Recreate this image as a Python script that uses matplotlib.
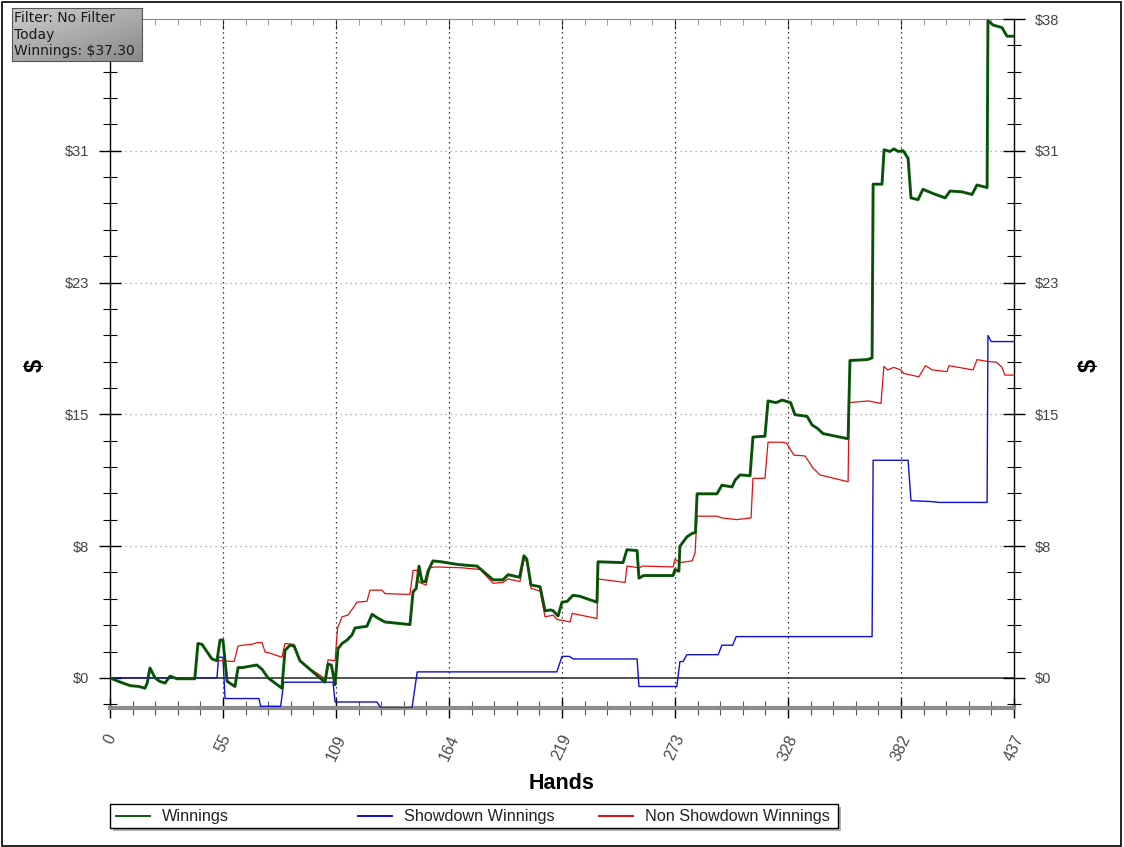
import numpy as np
import matplotlib
matplotlib.use("Agg")
import matplotlib.pyplot as plt
from matplotlib.patches import Rectangle
from matplotlib.lines import Line2D

# ---- datos (mano, $) ----
win_hands = [0, 4, 9.7, 14, 16.9, 18, 19.3, 20.5, 21.8, 24, 26.6, 29, 32.4, 41, 42.5, 44.5, 47, 49.3, 51.7,
             53.2, 54.6, 56.6, 60.4, 61.9, 64, 68.6, 71, 73.5, 76.4, 83.1, 84.6, 87, 89, 91.8, 97.6, 101.5,
             103.9, 105.4, 107, 108.8, 110.2, 112.2, 114.6, 117, 118.4, 124.2, 126.7, 129.1, 132.9, 145,
             146.5, 148, 149.4, 150.8, 152.5, 153.7, 156.1, 160, 167.7, 172, 177.4, 181.3, 185.2, 190, 192.4,
             198, 200.1, 201.5, 203.5, 207.9, 210.3, 213, 214.2, 216.6, 218.5, 221, 223.8, 227, 235.4, 235.9,
             248, 249.9, 254.8, 255.7, 258, 272.2, 273.1, 275, 275.5, 278.9, 281.4, 283, 283.8, 293.4, 295.8,
             300.7, 302.2, 304.6, 309.4, 310.8, 316.6, 318.1, 322, 324.9, 329, 331.1, 337, 339.4, 342, 344.7,
             356.8, 357.7, 366, 368.4, 368.9, 373.2, 374.2, 377, 379, 381, 383.4, 385.8, 387.2, 390.6, 393,
             398, 403.7, 406.1, 412, 416.7, 419.1, 424, 424.4, 426.9, 431.2, 433.6, 437]
win_vals = [0, -0.2, -0.45, -0.5, -0.6, -0.3, 0.58, 0.3, 0, -0.2, -0.3, 0.1, -0.05, -0.05, 2.0, 1.95, 1.5, 1.1, 1.0,
            2.2, 2.2, -0.2, -0.5, 0.6, 0.6, 0.7, 0.75, 0.5, 0, -0.6, 1.6, 1.9, 1.85, 1.0, 0.4, 0,
            -0.25, 0.8, 0.75, -0.4, 1.7, 2.0, 2.2, 2.5, 2.9, 3.0, 3.7, 3.5, 3.25, 3.1,
            5.0, 5.2, 6.5, 5.6, 5.6, 6.2, 6.8, 6.75, 6.6, 6.55, 6.5, 6.1, 5.7, 5.7, 6.0,
            5.85, 7.1, 6.9, 5.4, 5.3, 3.9, 3.95, 3.9, 3.6, 4.4, 4.45, 4.8, 4.75, 4.4, 6.75,
            6.7, 7.45, 7.4, 5.8, 5.95, 5.95, 6.3, 6.2, 7.65, 8.2, 8.4, 8.45, 10.7, 10.7, 11.2,
            11.1, 11.5, 11.8, 11.75, 14.0, 14.05, 16.1, 16.0, 16.15, 16.0, 15.3, 15.2, 14.7, 14.5, 14.2,
            13.9, 18.45, 18.5, 18.6, 28.7, 28.7, 30.7, 30.6, 30.75, 30.6, 30.65, 30.2, 27.9, 27.8, 28.4,
            28.15, 27.9, 28.3, 28.25, 28.1, 28.65, 28.5, 38.2, 37.95, 37.8, 37.3, 37.3]

sd_hands = [0, 51.7, 52.5, 54.6, 55.6, 72, 72.8, 82.5, 84, 107.8, 108.8, 129, 131, 146, 148.5, 216, 218.5,
            222, 224, 254.8, 255.7, 274, 275.5, 277, 278.9, 294, 295.8, 301, 302.7, 368.4, 368.9, 385.8,
            387.2, 397, 401, 424, 424.4, 426, 437]
sd_vals = [0, 0, 1.2, 1.2, -1.2, -1.2, -1.65, -1.65, -0.25, -0.25, -1.4, -1.4, -1.75, -1.75, 0.35, 0.35, 1.25,
           1.25, 1.1, 1.1, -0.5, -0.5, 0.95, 0.95, 1.35, 1.35, 1.9, 1.9, 2.4, 2.4, 12.65, 12.65,
           10.3, 10.25, 10.2, 10.2, 19.9, 19.55, 19.55]

nsd_hands = [0, 4, 9.7, 14, 16.9, 18, 19.3, 20.5, 21.8, 24, 26.6, 29, 32.4, 41, 42.5, 44.5, 47, 49.3, 51.7,
             53.2, 60, 61.9, 64, 68.6, 71, 73.5, 75, 77, 83.1, 84.6, 89, 91.8, 97, 101, 103.9, 105.4, 108.8,
             110, 112.2, 115, 117.4, 119.4, 124.2, 125.7, 131.5, 132.9, 145, 146.5, 148.5, 149.4, 152.8,
             154.7, 157.1, 170, 179, 181.3, 185.2, 190, 192.4, 198.2, 200.1, 201.5, 203.5, 207.9, 210.3,
             214.2, 216.1, 222.4, 223.4, 235.4, 235.9, 249, 249.9, 255.7, 257.6, 272.2, 273.1, 275.5, 281.4,
             282.8, 283.8, 293.4, 295.8, 303, 309.9, 310.8, 316.6, 318.1, 324.9, 327, 330.6, 336, 339.8,
             343.2, 356.8, 357.3, 366.6, 372.7, 374.1, 376, 378.9, 382.3, 383.7, 391, 394.2, 397.6, 404.6,
             405.6, 417.2, 419.1, 424, 428.6, 431.2, 432.6, 437]
nsd_vals = [0, -0.2, -0.45, -0.5, -0.6, -0.3, 0.58, 0.3, 0, -0.2, -0.3, 0.1, -0.05, -0.05, 2.0, 1.95, 1.5, 1.1, 1.0,
            1.0, 0.95, 1.85, 1.9, 1.95, 2.05, 2.05, 1.5, 1.45, 1.2, 2.0, 1.95, 1.0, 0.5, 0.2, -0.05, 1.05, 1.0,
            2.9, 3.55, 3.65, 4.05, 4.4, 4.45, 5.1, 5.1, 4.9, 4.85, 6.25, 6.25, 5.55, 5.4,
            6.4, 6.45, 6.4, 6.3, 6.0, 5.5, 5.55, 5.75, 5.6, 6.9, 6.75, 5.2, 5.05, 3.55,
            3.65, 3.4, 3.25, 3.75, 3.45, 5.75, 5.55, 6.5, 6.4, 6.5, 6.45, 6.9, 6.7, 6.8,
            7.25, 9.4, 9.4, 9.3, 9.2, 9.3, 11.6, 11.6, 13.7, 13.7, 13.65, 12.95, 12.9, 12.2,
            11.8, 11.4, 16.0, 16.1, 15.95, 18.1, 17.9, 18.05, 17.9, 17.7, 17.5, 18.15, 17.9, 17.8,
            18.15, 17.9, 18.5, 18.4, 18.35, 18.05, 17.6, 17.6]

x_max = 437
y_min, y_max = -1.75, 38.3
x_tick_labels = ['0', '55', '109', '164', '219', '273', '328', '382', '437']
y_tick_labels = ['$0', '$8', '$15', '$23', '$31', '$38']
legend_labels = ['Winnings', 'Showdown Winnings', 'Non Showdown Winnings']
info_text = "Filter: No Filter\nToday\nWinnings: $37.30"

W, H = 1124, 847
fig = plt.figure(figsize=(W / 100, H / 100), dpi=100)
fig.patch.set_facecolor('white')
FONT = 'Liberation Sans'

# marco exterior
fig.patches.append(Rectangle((1.5 / W, 1.5 / H), (W - 5) / W, (H - 4) / H, transform=fig.transFigure,
                             fill=False, edgecolor='black', lw=1.2))

ax = fig.add_axes([110 / W, (H - 708) / H, (1014 - 110) / W, (708 - 19) / H])
ax.set_xlim(0, x_max)
ax.set_ylim(y_min, y_max)

xt = np.linspace(0, x_max, 9)
yt = np.linspace(0, y_max, 6)
ax.set_xticks(xt)
ax.set_xticks(np.linspace(0, x_max, 41), minor=True)
ax.set_yticks(yt)
ymin_step = y_max / 25
ax.set_yticks(np.arange(-1, 26) * ymin_step, minor=True)
ax.set_ylim(y_min, y_max)
ax.set_xticklabels(x_tick_labels, rotation=65, ha='center', fontsize=11.5, color='#4a4a4a', family=FONT)
ax.set_yticklabels(y_tick_labels, fontsize=10.5, color='#444444', family=FONT)

ax.tick_params(axis='x', which='major', direction='inout', length=15, width=1, pad=10, colors='black',
               labelcolor='#4a4a4a')
ax.tick_params(axis='x', which='minor', direction='inout', length=10, width=0.8, color='#555555')
ax.tick_params(axis='y', which='major', direction='inout', length=16, width=1, pad=7, right=True,
               labelright=True, labelcolor='#444444')
ax.tick_params(axis='y', which='minor', direction='inout', length=10, width=0.8, right=True)
# la etiqueta $38 de la izquierda queda tapada por la caja de filtro
ax.yaxis.get_major_ticks()[-1].label1.set_visible(False)

# eje superior con marcas hacia adentro
top = ax.secondary_xaxis('top')
top.set_xticks(xt)
top.set_xticks(np.linspace(0, x_max, 41), minor=True)
top.tick_params(which='major', direction='in', length=7, labeltop=False, color='#444444')
top.tick_params(which='minor', direction='in', length=4, color='#888888')
top.set_xticklabels([])
top.spines['top'].set_color('#888888')

for s in ['left', 'right']:
    ax.spines[s].set_color('black')
    ax.spines[s].set_linewidth(1)
ax.spines['top'].set_visible(False)
ax.spines['bottom'].set_color('#8c8c8c')
ax.spines['bottom'].set_linewidth(3)

# rejilla
for v in xt[1:-1]:
    ax.axvline(v, color='black', lw=0.9, linestyle=(0, (1, 3)), zorder=1)
for v in yt[1:-1]:
    ax.axhline(v, color='#9a9a9a', lw=0.9, linestyle=(0, (1, 3)), zorder=1)
ax.axhline(0, color='#222222', lw=1.1, zorder=1)

# series
ax.plot(sd_hands, sd_vals, color='#1010d0', lw=1.0, zorder=3)
ax.plot(nsd_hands, nsd_vals, color='#e01010', lw=0.9, zorder=3)
ax.plot(win_hands, win_vals, color='#0c5c0c', lw=2.1, zorder=4, solid_joinstyle='round')
ax.plot(win_hands, win_vals, color='black', lw=0.7, alpha=0.6, linestyle=(0, (1, 1.5)), zorder=5)

ax.set_xlabel('Hands', fontsize=15.5, fontweight='bold', family=FONT, labelpad=7)
fig.text(35 / W, 1 - 365 / H, '$', rotation=90, fontsize=17, fontweight='bold', family=FONT,
         ha='center', va='center')
fig.text(1089 / W, 1 - 365 / H, '$', rotation=90, fontsize=17, fontweight='bold', family=FONT,
         ha='center', va='center')

# leyenda manual
fig.patches.append(Rectangle((113 / W, (H - 831) / H), 728 / W, 24 / H, transform=fig.transFigure,
                             facecolor='#b0b0b0', edgecolor='none', zorder=1))
fig.patches.append(Rectangle((110 / W, (H - 828) / H), 728 / W, 24 / H, transform=fig.transFigure,
                             facecolor='white', edgecolor='black', lw=1, zorder=2))
leg_colors = ['#0c5c0c', '#1010d0', '#e01010']
leg_x = [116, 358, 599]
for lx, lab, c in zip(leg_x, legend_labels, leg_colors):
    fig.lines.append(Line2D([lx / W, (lx + 34) / W], [(H - 816) / H] * 2, transform=fig.transFigure,
                            color=c, lw=1.4, zorder=3))
    fig.text((lx + 46) / W, (H - 816) / H, lab, fontsize=11.7, family=FONT, color='#222222',
             ha='left', va='center', zorder=3)

# caja de informacion con degradado
bx = fig.add_axes([12 / W, (H - 61) / H, 130 / W, 53 / H])
gx, gy = np.meshgrid(np.linspace(0, 1, 100), np.linspace(0, 1, 40))
grad = 0.8 - 0.12 * gx - 0.14 * gy
bx.imshow(grad, cmap='gray', vmin=0, vmax=1, aspect='auto', extent=[0, 1, 0, 1], origin='upper')
bx.set_xticks([])
bx.set_yticks([])
for s in bx.spines.values():
    s.set_color('#555555')
bx.text(0.015, 0.5, info_text, transform=bx.transAxes, fontsize=10.0, family='DejaVu Sans',
        color='#1a1a1a', ha='left', va='center', linespacing=1.2)

fig.savefig('out.png', dpi=100)
